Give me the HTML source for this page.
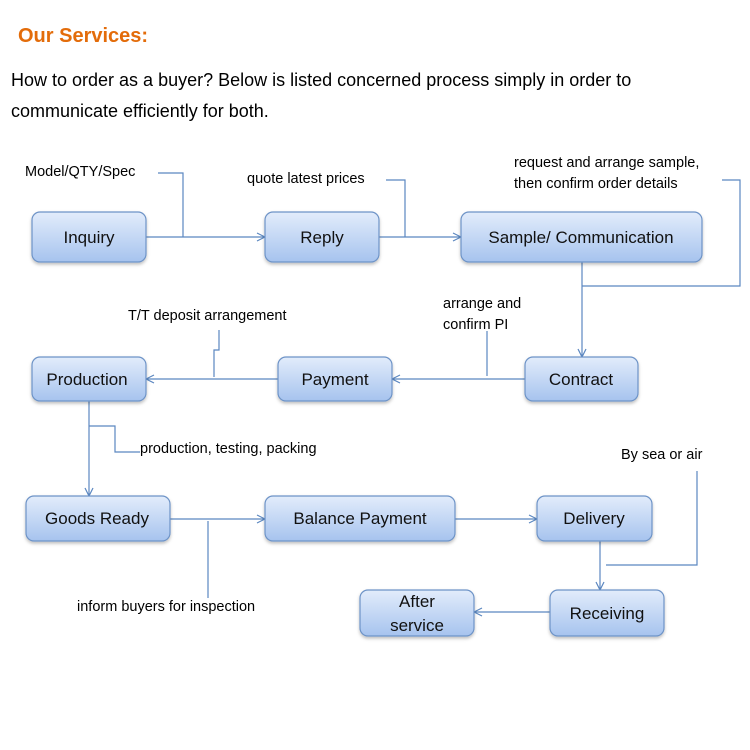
<!DOCTYPE html>
<html><head><meta charset="utf-8"><style>
html,body{margin:0;padding:0;background:#fff;}
svg{display:block;}
text{font-family:"Liberation Sans",sans-serif;fill:#000;}
.b{font-size:17px;text-anchor:middle;fill:#111;}
.l{font-size:14.5px;}
</style></head><body>
<svg width="750" height="750" viewBox="0 0 750 750" xmlns="http://www.w3.org/2000/svg">
<defs>
<linearGradient id="g" x1="0" y1="0" x2="0" y2="1">
<stop offset="0" stop-color="#e2ecfb"/><stop offset="1" stop-color="#a6c3ee"/>
</linearGradient>
<marker id="a" markerWidth="10" markerHeight="10" refX="9" refY="5" orient="auto" markerUnits="userSpaceOnUse">
<path d="M1,1 L9,5 L1,9" fill="none" stroke="#5b87c0" stroke-width="1.2"/>
</marker>
<filter id="s" x="-10%" y="-10%" width="120%" height="130%"><feDropShadow dx="0" dy="2" stdDeviation="1.5" flood-color="#000" flood-opacity="0.25"/></filter>
</defs>
<text x="18" y="42" style="font-size:20px;font-weight:bold;fill:#e36c0a">Our Services:</text>
<text x="11" y="86" style="font-size:18px">How to order as a buyer? Below is listed concerned process simply in order to</text>
<text x="11" y="117" style="font-size:18px">communicate efficiently for both.</text>

<g fill="none" stroke="#5b87c0" stroke-width="1.2">
<path d="M146,237 H265" marker-end="url(#a)"/>
<path d="M158,173 H183 V237"/>
<path d="M379,237 H461" marker-end="url(#a)"/>
<path d="M386,180 H405 V237"/>
<path d="M582,262 V357" marker-end="url(#a)"/>
<path d="M582,286 H740 V180 H722"/>
<path d="M525,379 H392" marker-end="url(#a)"/>
<path d="M487,331 V376"/>
<path d="M278,379 H146" marker-end="url(#a)"/>
<path d="M219,330 V350 H214 V377"/>
<path d="M89,401 V496" marker-end="url(#a)"/>
<path d="M89,426 H115 V452 H140"/>
<path d="M170,519 H265" marker-end="url(#a)"/>
<path d="M208,521 V598"/>
<path d="M455,519 H537" marker-end="url(#a)"/>
<path d="M600,541 V590" marker-end="url(#a)"/>
<path d="M697,471 V565 H606"/>
<path d="M550,612 H474" marker-end="url(#a)"/>
</g>

<g fill="url(#g)" stroke="#6d93c7" stroke-width="1.2" filter="url(#s)">
<rect x="32" y="212" width="114" height="50" rx="8"/>
<rect x="265" y="212" width="114" height="50" rx="8"/>
<rect x="461" y="212" width="241" height="50" rx="8"/>
<rect x="525" y="357" width="113" height="44" rx="8"/>
<rect x="278" y="357" width="114" height="44" rx="8"/>
<rect x="32" y="357" width="114" height="44" rx="8"/>
<rect x="26" y="496" width="144" height="45" rx="8"/>
<rect x="265" y="496" width="190" height="45" rx="8"/>
<rect x="537" y="496" width="115" height="45" rx="8"/>
<rect x="550" y="590" width="114" height="46" rx="8"/>
<rect x="360" y="590" width="114" height="46" rx="8"/>
</g>

<text class="b" x="89" y="243">Inquiry</text>
<text class="b" x="322" y="243">Reply</text>
<text class="b" x="581" y="243">Sample/ Communication</text>
<text class="b" x="581" y="385">Contract</text>
<text class="b" x="335" y="385">Payment</text>
<text class="b" x="87" y="385">Production</text>
<text class="b" x="97" y="524">Goods Ready</text>
<text class="b" x="360" y="524">Balance Payment</text>
<text class="b" x="594" y="524">Delivery</text>
<text class="b" x="607" y="619">Receiving</text>
<text class="b" x="417" y="607">After</text>
<text class="b" x="417" y="631">service</text>

<text class="l" x="25" y="176">Model/QTY/Spec</text>
<text class="l" x="247" y="183">quote latest prices</text>
<text class="l" x="514" y="167">request and arrange sample,</text>
<text class="l" x="514" y="188">then confirm order details</text>
<text class="l" x="443" y="308">arrange and</text>
<text class="l" x="443" y="329">confirm PI</text>
<text class="l" x="128" y="320">T/T deposit arrangement</text>
<text class="l" x="140" y="453">production, testing, packing</text>
<text class="l" x="621" y="459">By sea or air</text>
<text class="l" x="77" y="611">inform buyers for inspection</text>
</svg>
</body></html>
